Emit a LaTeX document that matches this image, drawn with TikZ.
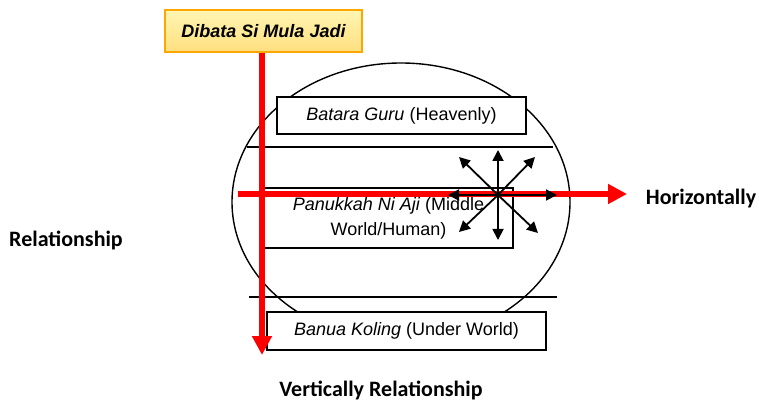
\documentclass[tikz,border=0pt]{standalone}
\usepackage{fontspec}
\setmainfont{Liberation Sans}
\newfontfamily\captionfont{Carlito}
\usetikzlibrary{arrows.meta}
\tikzstyle{world}=[draw, line width=0.7pt, fill=white, inner sep=0pt, font=\fontsize{9}{12.5}\selectfont]
\tikzstyle{godbox}=[world, draw=orange!70!yellow, top color=orange!25!yellow!30, bottom color=orange!50!yellow!50, font=\fontsize{9}{11}\selectfont\bfseries\itshape]
\tikzstyle{divider}=[line width=1.3pt]
\tikzstyle{relation}=[draw=red, line width=2.6pt, -{Triangle[length=9.5pt,width=9.5pt]}]
\tikzstyle{spread}=[line width=0.9pt, -{Triangle[length=5.5pt,width=5.5pt]}]
\tikzstyle{caption}=[font=\captionfont\fontsize{11}{13}\selectfont\bfseries]

\begin{document}
\begin{tikzpicture}[x=0.5pt, y=-0.5pt]
        \useasboundingbox (0, 0) rectangle (759, 400);
        \draw[line width=0.7pt] (401, 202) ellipse [x radius=84.5pt, y radius=69.5pt];
        \node[world, minimum width=124.5pt, minimum height=18.5pt] (batara) at (401.5, 115.5) {\textit{Batara Guru} (Heavenly)};
        \node[world, minimum width=124.5pt, minimum height=30pt, align=center] (panukkah) at (388.5, 218) {\textit{Panukkah Ni Aji} (Middle\\World/Human)};
        \node[world, minimum width=139.5pt, minimum height=19pt] (banua) at (406.5, 331) {\textit{Banua Koling} (Under World)};
        \node[godbox, minimum width=98.5pt, minimum height=21pt] (dibata) at (263.5, 31) {Dibata Si Mula Jadi};
        \coordinate (upL) at (247, 147);
        \coordinate (upR) at (553, 147);
        \coordinate (lowL) at (249, 297);
        \coordinate (lowR) at (557, 297);
        \draw[divider] (upL) -- (upR);
        \draw[divider] (lowL) -- (lowR);
        % red relations
        \coordinate (vend) at (262, 355);
        \coordinate (hstart) at (238, 194);
        \coordinate (hend) at (627, 194);
        \draw[relation] (hstart) -- (hend);
        \draw[relation] (dibata.south -| vend) -- (vend);
        % spreading arrows
        \coordinate (hub) at (498, 195);
        \foreach \dx/\dy [count=\i] in {0/-45, 0/45, -50/0, 59/0, -39/-38, 37/-38, -39/37, 40/38}
        {
            \path (hub) ++(\dx, \dy) coordinate (tip\i);
            \draw[spread] (hub) -- (tip\i);
        }
        \node[caption] (horiz) at (701, 199) {Horizontally};
        \node[caption] (rel) at (66, 240) {Relationship};
        \node[caption] (vert) at (381, 390) {Vertically Relationship};
    \end{tikzpicture}
\end{document}
